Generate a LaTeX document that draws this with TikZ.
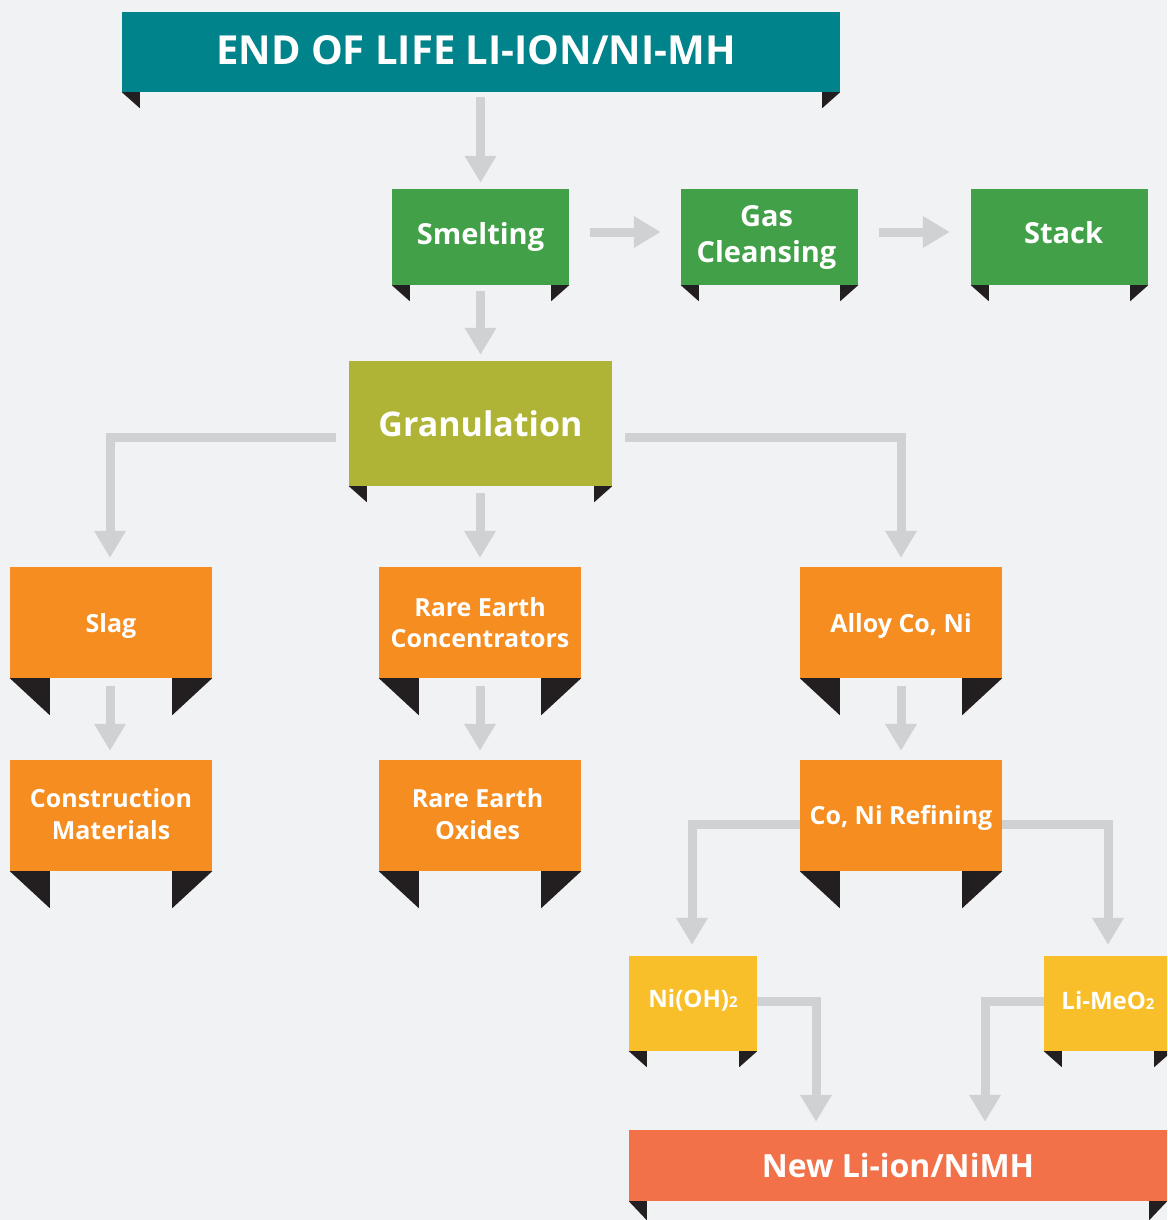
\documentclass[tikz,border=0pt]{standalone}
\usepackage{fontspec}
\setmainfont{Open Sans}
\usetikzlibrary{arrows.meta,calc}
\definecolor{bgc}{HTML}{F1F2F4}
\definecolor{tealc}{HTML}{00838A}
\definecolor{greenc}{HTML}{42A148}
\definecolor{olivec}{HTML}{AFB436}
\definecolor{orangec}{HTML}{F68D20}
\definecolor{yellowc}{HTML}{F8BF2A}
\definecolor{coralc}{HTML}{F27148}
\definecolor{arrgray}{HTML}{CFD1D3}
\definecolor{foldc}{HTML}{231F20}
\newcommand\folds[3]{%
  \fill[foldc] (#1.south west) -- ++(#2,0) -- ++(0,#3) -- cycle;
  \fill[foldc] (#1.south east) -- ++(-#2,0) -- ++(0,#3) -- cycle;}
\newcommand\nudge[2]{\raisebox{#1}[\height][\depth]{#2}}
\begin{document}
\begin{tikzpicture}[x=1pt,y=-1pt,
  box/.style={inner sep=0pt, text=white, align=center, font=\bfseries},
  titlebox/.style={box, fill=tealc, minimum width=718pt, minimum height=80pt, font=\fontsize{40}{44}\selectfont\bfseries},
  greenbox/.style={box, fill=greenc, minimum width=177pt, minimum height=96pt, font=\fontsize{29}{36}\selectfont\bfseries},
  granbox/.style={box, fill=olivec, minimum width=263pt, minimum height=125pt, font=\fontsize{34}{40}\selectfont\bfseries},
  orangebox/.style={box, fill=orangec, minimum width=202pt, minimum height=111pt, font=\fontsize{25}{31.5}\selectfont\bfseries},
  yellowbox/.style={box, fill=yellowc, minimum width=128pt, minimum height=95pt, font=\fontsize{24}{30}\selectfont\bfseries},
  newbox/.style={box, fill=coralc, minimum width=538pt, minimum height=71pt, font=\fontsize{32}{38}\selectfont\bfseries},
  arr/.style={draw=arrgray, line width=9pt, line join=miter, -{Triangle[width=30pt,length=27pt]}, arrgray}
]
\useasboundingbox (0,0) rectangle (1167,1220);
\clip (0,0) rectangle (1167,1220);
\fill[bgc] (0,0) rectangle (1167,1220);

% nodes
\node[titlebox] (title) at (481,52) {\nudge{2pt}{END OF LIFE LI-ION/NI-MH\hspace{10pt}}};
\node[greenbox] (smelt) at (480.5,237) {Smelting};
\node[greenbox] (gas) at (769.5,237) {Gas\hspace*{6pt}\\Cleansing\hspace*{6pt}};
\node[greenbox] (stack) at (1059.5,237) {\nudge{4.5pt}{\hspace{8pt}Stack}};
\node[granbox] (gran) at (480.5,423.5) {Granulation};
\node[orangebox] (slag) at (111,622.5) {\nudge{-3pt}{Slag}};
\node[orangebox] (rec) at (480,622.5) {Rare Earth\\Concentrators};
\node[orangebox] (alloy) at (901,622.5) {\nudge{-3pt}{Alloy Co, Ni}};
\node[orangebox] (constr) at (111,815.5) {\nudge{1.5pt}{Construction}\\\nudge{1.5pt}{Materials}};
\node[orangebox] (reo) at (480,815.5) {\nudge{1.5pt}{Rare Earth\hspace*{5pt}}\\\nudge{1.5pt}{Oxides\hspace*{5pt}}};
\node[orangebox] (refin) at (901,815.5) {\nudge{-2pt}{Co, Ni Refining}};
\node[yellowbox] (nioh) at (693,1003.5) {\nudge{3pt}{Ni(OH){\fontsize{15}{15}\selectfont 2}}};
\node[yellowbox] (limeo) at (1108,1003.5) {\nudge{3pt}{Li-MeO{\fontsize{15}{15}\selectfont 2}}};
\node[newbox] (newli) at (898,1165.5) {New Li-ion/NiMH};

% folds
\folds{title}{18}{16}
\folds{smelt}{18}{16}
\folds{gas}{18}{16}
\folds{stack}{18}{16}
\folds{gran}{18}{16}
\folds{slag}{40}{37}
\folds{rec}{40}{37}
\folds{alloy}{40}{37}
\folds{constr}{40}{37}
\folds{reo}{40}{37}
\folds{refin}{40}{37}
\folds{nioh}{18}{16}
\folds{limeo}{18}{16}
\folds{newli}{18}{19}

% connectors
\draw[arr] ($(smelt.north |- title.south)+(0,5)$) -- ($(smelt.north)+(0,-6)$);
\draw[arr] ($(smelt.east)+(21,-5)$) -- ($(gas.west)+(-20,-5)$);
\draw[arr] ($(gas.east)+(21,-5)$) -- ($(stack.west)+(-21,-5)$);
\draw[arr] ($(smelt.south)+(0,6)$) -- ($(gran.north)+(0,-6)$);
\draw[arr] ($(gran.west)+(-13,13.5)$) -| ($(slag.north)+(-1,-9)$);
\draw[arr] ($(rec.north |- gran.south)+(0,7)$) -- ($(rec.north)+(0,-9)$);
\draw[arr] ($(gran.east)+(13,13.5)$) -| ($(alloy.north)+(0,-9)$);
\draw[arr] ($(slag.south)+(-1,8)$) -- ($(constr.north)+(-1,-9)$);
\draw[arr] ($(rec.south)+(0,8)$) -- ($(reo.north)+(0,-9)$);
\draw[arr] ($(alloy.south)+(0,8)$) -- ($(refin.north)+(0,-9)$);
\draw[arr] ($(refin.west)+(0,9)$) -| ($(nioh.north)+(-1,-11)$);
\draw[arr] ($(refin.east)+(0,9)$) -| ($(limeo.north)+(0,-11)$);
\draw[arr] ($(nioh.east)+(0,-2.5)$) -| ($(newli.north)+(-82,-8)$);
\draw[arr] ($(limeo.west)+(0,-2.5)$) -| ($(newli.north)+(87,-8)$);
\end{tikzpicture}
\end{document}
